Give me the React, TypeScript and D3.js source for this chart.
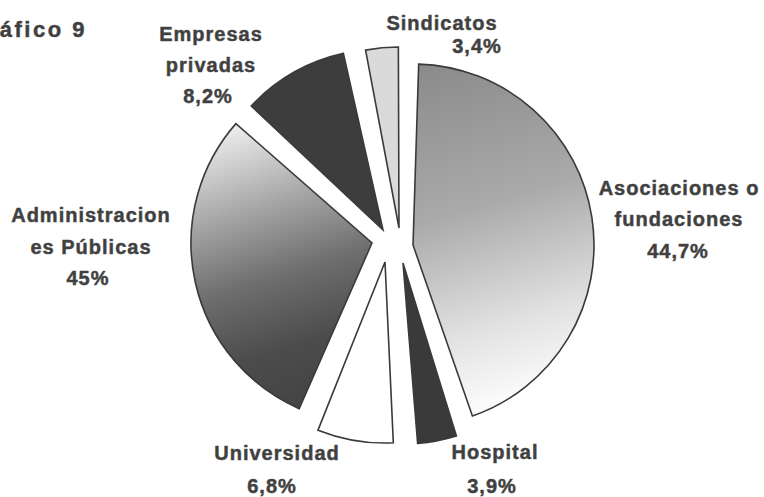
import React from "react";
import * as d3 from "d3";

// slice order follows the picture, clockwise from 12 o'clock
const categories = [
  "Asociaciones o fundaciones",
  "Hospital",
  "Universidad",
  "Administraciones Públicas",
  "Empresas privadas",
  "Sindicatos",
];
// shares as drawn (the printed labels do not all agree with the slice sizes)
const sliceValues = [45.7, 3.6, 7.0, 30.9, 9.8, 3.0];
const pctLabels = ["44,7%", "3,9%", "6,8%", "45%", "8,2%", "3,4%"];
const labelLines = [
  ["Asociaciones o", "fundaciones"],
  ["Hospital"],
  ["Universidad"],
  ["Administracion", "es Públicas"],
  ["Empresas", "privadas"],
  ["Sindicatos"],
];
const title = "Gráfico 9";

const W = 764;
const H = 497;

export default function App() {
  const cx = 393;
  const cy = 245;
  const radius = 181;
  const toRad = Math.PI / 180;

  const pie = d3
    .pie<number>()
    .sort(null)
    .startAngle(0.8 * toRad)
    .endAngle(360.8 * toRad)
    .padAngle(2.0 * toRad);

  const arc = d3.arc<d3.PieArcDatum<number>>().innerRadius(0).outerRadius(radius);

  const arcs = pie(sliceValues);

  // how far each slice is pulled out of the pie (px)
  const explodeOffset: [number, number][] = [
    [20, 0],
    [10, 18],
    [-8, 17],
    [-21, -2],
    [-10, -15],
    [6, -17],
  ];
  const fills = ["url(#gAsoc)", "#3a3a3a", "#ffffff", "url(#gAdmin)", "#3d3d3d", "#dadada"];

  // label layout: centre x, baselines for the name lines, then pct (x, y)
  const labelPos = [
    { x: 679, ys: [195, 226], px: 678, py: 258 },
    { x: 495, ys: [459], px: 492, py: 493 },
    { x: 277, ys: [460], px: 272, py: 493 },
    { x: 91, ys: [222, 254], px: 88, py: 285 },
    { x: 211, ys: [41, 72], px: 208, py: 103 },
    { x: 442, ys: [30], px: 477, py: 53 },
  ];

  const textStyle: React.CSSProperties = {
    fontFamily: "'Liberation Sans', Arial, sans-serif",
    fontWeight: "bold",
    fontSize: 20,
    letterSpacing: 1,
    fill: "#3f3f3f",
    stroke: "#4a4a4a",
    strokeWidth: 0.5,
  };

  return (
    <svg
      width={W}
      height={H}
      style={{ position: "absolute", left: 0, top: 0, background: "#ffffff" }}
    >
      <defs>
        <linearGradient id="gAsoc" x1="0" y1="0" x2="0.15" y2="1">
          <stop offset="0" stopColor="#8a8a8a" />
          <stop offset="0.45" stopColor="#aaaaaa" />
          <stop offset="0.8" stopColor="#e2e2e2" />
          <stop offset="1" stopColor="#fafafa" />
        </linearGradient>
        <linearGradient id="gAdmin" x1="0.3" y1="0" x2="0.5" y2="1">
          <stop offset="0" stopColor="#ececec" />
          <stop offset="0.3" stopColor="#a5a5a5" />
          <stop offset="0.55" stopColor="#6e6e6e" />
          <stop offset="0.8" stopColor="#4c4c4c" />
          <stop offset="1" stopColor="#444444" />
        </linearGradient>
      </defs>

      <text x={87} y={37} textAnchor="end" style={{ ...textStyle, fontSize: 22, letterSpacing: 2.5 }}>
        {title}
      </text>

      <g transform={`translate(${cx},${cy})`}>
        {arcs.map((a, i) => (
          <path
            key={categories[i]}
            d={arc(a) || ""}
            transform={`translate(${explodeOffset[i][0]},${explodeOffset[i][1]})`}
            fill={fills[i]}
            stroke="#3a3a3a"
            strokeWidth={1.6}
            strokeLinejoin="miter"
          />
        ))}
      </g>

      {labelLines.map((lines, i) => (
        <g key={categories[i]}>
          {lines.map((ln, j) => (
            <text key={j} x={labelPos[i].x} y={labelPos[i].ys[j]} textAnchor="middle" style={textStyle}>
              {ln}
            </text>
          ))}
          <text x={labelPos[i].px} y={labelPos[i].py} textAnchor="middle" style={textStyle}>
            {pctLabels[i]}
          </text>
        </g>
      ))}
    </svg>
  );
}
